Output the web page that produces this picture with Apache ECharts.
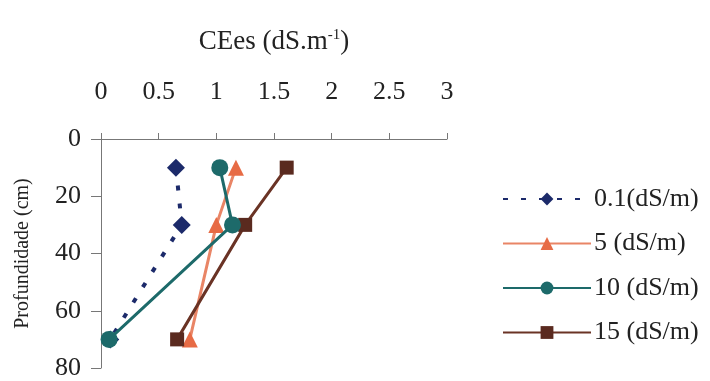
<!DOCTYPE html>
<html><head><meta charset="utf-8">
<script src="https://cdn.jsdelivr.net/npm/echarts@6/dist/echarts.min.js"></script>
<style>html,body{margin:0;padding:0;background:#fff}#c{width:710px;height:381px}</style>
</head><body><div id="c"></div>
<script>
const depths = [10, 30, 70];
const seriesNames = ['0.1(dS/m)', '5 (dS/m)', '10 (dS/m)', '15 (dS/m)'];
const s01 = [0.65, 0.70, 0.08];
const s5 = [1.17, 1.00, 0.77];
const s10 = [1.03, 1.14, 0.07];
const s15 = [1.61, 1.25, 0.66];
const xTicks = [0, 0.5, 1, 1.5, 2, 2.5, 3];
const yTicks = [0, 20, 40, 60, 80];

const font = '"Liberation Serif", "DejaVu Serif", serif';
function pts(vals) { return vals.map((v, i) => [v, depths[i]]); }

const chart = echarts.init(document.getElementById('c'));
chart.setOption({
  animation: false,
  backgroundColor: '#fff',
  grid: { left: 101, top: 139, width: 346, height: 232 },
  xAxis: {
    type: 'value', position: 'top', min: xTicks[0], max: xTicks[xTicks.length - 1], interval: 0.5,
    name: '{n|CEes (dS.m}{s|-1}{n|)}', nameLocation: 'middle', nameGap: 84,
    nameTextStyle: { rich: { n: { fontFamily: font, fontSize: 27, color: '#222' }, s: { fontFamily: font, fontSize: 15, color: '#222', verticalAlign: 'top', padding: [0, 0, 12, 0] } } },
    axisLine: { show: true, lineStyle: { color: '#777', width: 1 } },
    axisTick: { show: true, inside: false, length: 6, lineStyle: { color: '#777' } },
    axisLabel: { fontFamily: font, fontSize: 26, color: '#222', margin: 34, formatter: v => String(v) },
    splitLine: { show: false }
  },
  yAxis: {
    type: 'value', inverse: true, min: yTicks[0], max: yTicks[yTicks.length - 1], interval: 20,
    name: 'Profundidade (cm)', nameLocation: 'middle', nameGap: 68, nameRotate: 90,
    nameTextStyle: { fontFamily: font, fontSize: 20, color: '#222' },
    axisLine: { show: true, lineStyle: { color: '#777', width: 1 } },
    axisTick: { show: true, inside: false, length: 10, lineStyle: { color: '#777' } },
    axisLabel: { fontFamily: font, fontSize: 26, color: '#222', margin: 20 },
    splitLine: { show: false }
  },
  legend: {
    orient: 'vertical', left: 497, top: 181, itemGap: 18.5, itemWidth: 88, itemHeight: 16,
    textStyle: { fontFamily: font, fontSize: 26, lineHeight: 26, color: '#222', padding: [0, 0, 0, -2] },
    data: seriesNames
  },
  series: [
    { name: seriesNames[0], type: 'line', data: pts(s01), symbol: 'diamond', symbolSize: 18,
      itemStyle: { color: '#1c2a6a' }, lineStyle: { color: '#1c2a6a', width: 4, type: [5, 13] }, z: 2 },
    { name: seriesNames[1], type: 'line', data: pts(s5), symbol: 'triangle', symbolSize: 16,
      itemStyle: { color: '#e76b45' }, lineStyle: { color: '#e98566', width: 3 }, z: 3 },
    { name: seriesNames[2], type: 'line', data: pts(s10), symbol: 'circle', symbolSize: 17,
      itemStyle: { color: '#1d6a6a' }, lineStyle: { color: '#1d6a6a', width: 3 }, z: 5 },
    { name: seriesNames[3], type: 'line', data: pts(s15), symbol: 'rect', symbolSize: 14,
      itemStyle: { color: '#5a2a1f' }, lineStyle: { color: '#6a3325', width: 3 }, z: 4 }
  ]
});
</script></body></html>
